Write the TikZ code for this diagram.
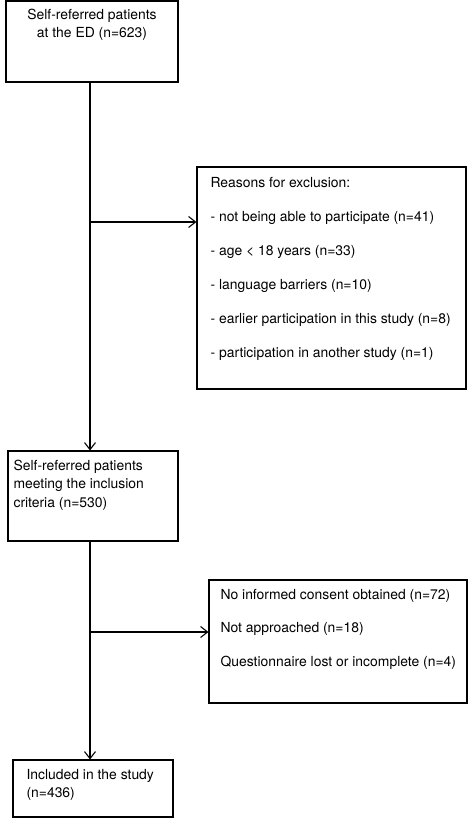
\documentclass[tikz,border=0pt]{standalone}
\usepackage{fontspec}
\setmainfont{TeX Gyre Heros}
\usetikzlibrary{arrows.meta}
\tikzset{>={Straight Barb[length=7pt,width=11pt]}}
\tikzset{box/.style={draw, line width=1.1pt, inner sep=0pt},
	txt/.style={inner sep=0pt, font=\fontsize{13.9}{18.5}\selectfont},
	list/.style={inner sep=0pt, align=left, anchor=north west, font=\fontsize{13.9}{33.9}\selectfont}}

\begin{document}
\begin{tikzpicture}[x=1pt, y=-1pt, line width=1.1pt]
	\useasboundingbox (0,0) rectangle (474,818);
	%\draw[help lines] (0,0) grid[step=50] (474,818);
	\coordinate (spine) at (90,0);
	\coordinate (split1) at (90,222);
	\coordinate (split2) at (90,632);
	% boxes
	\node[box, minimum width=172pt, minimum height=81pt] (screened) at (92,41.5) {};
	\node[box, minimum width=269pt, minimum height=222pt] (excluded) at (331.5,278) {};
	\node[box, minimum width=170pt, minimum height=90pt] (eligible) at (93,496) {};
	\node[box, minimum width=258pt, minimum height=123pt] (notincl) at (338,641.5) {};
	\node[box, minimum width=160pt, minimum height=57pt] (included) at (93,788.5) {};
	% texts
	\node[txt, align=center, anchor=north] (screenedtxt) at (92,8.3) {Self-referred patients\\at the ED (n=623)};
	\node[list] (excludedtxt) at (210,176.8) {Reasons for exclusion:\\
		- not being able to participate (n=41)\\
		- age < 18 years (n=33)\\
		- language barriers (n=10)\\
		- earlier participation in this study (n=8)\\
		- participation in another study (n=1)};
	\node[txt, align=left, anchor=north west] (eligibletxt) at (13,459.4) {Self-referred patients\\meeting the inclusion\\criteria (n=530)};
	\node[list] (notincltxt) at (220,588.3) {No informed consent obtained (n=72)\\
		Not approached (n=18)\\
		Questionnaire lost or incomplete (n=4)};
	\node[txt, align=left, anchor=north west] (includedtxt) at (26,768.8) {Included in the study\\(n=436)};
	% connectors
	\draw[->] (screened.south -| spine) -- (eligible.north -| spine);
	\draw[->] (split1) -- (split1 -| excluded.west);
	\draw[->] (eligible.south -| spine) -- (included.north -| spine);
	\draw[->] (split2) -- (split2 -| notincl.west);
\end{tikzpicture}
\end{document}
